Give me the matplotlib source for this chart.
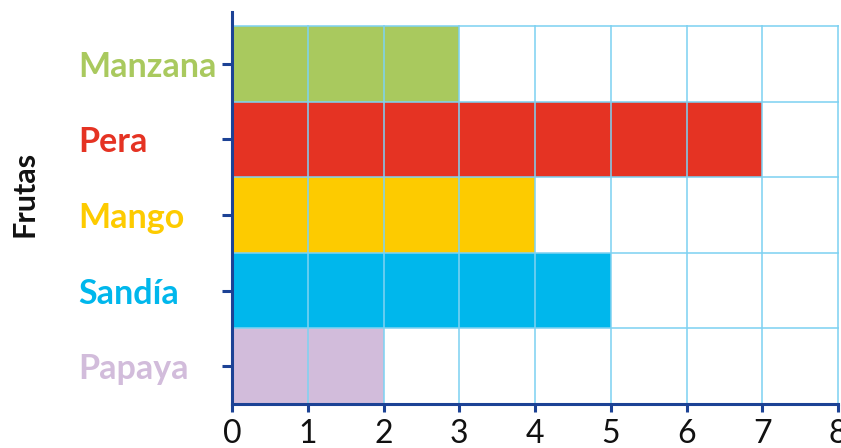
import matplotlib
matplotlib.use("Agg")
import matplotlib.pyplot as plt

frutas = ["Manzana", "Pera", "Mango", "Sandía", "Papaya"]
cantidades = [3, 7, 4, 5, 2]
colores = ["#A9C95E", "#E53323", "#FDCB00", "#00B7EC", "#D2BCDB"]
x_ticks = [0, 1, 2, 3, 4, 5, 6, 7, 8]

navy = "#1C4295"
grid_color = "#7ED2F2"

plt.rcParams["font.family"] = ["Lato", "DejaVu Sans"]

fig = plt.figure(figsize=(8.41, 4.48), dpi=100)
ax = fig.add_axes([232 / 841, 1 - 404 / 448, 606 / 841, 392 / 448])

n = len(frutas)
ypos = [n - 1 - i + 0.5 for i in range(n)]
ax.barh(ypos, cantidades, height=1.0, color=colores, zorder=1, linewidth=0)

# grid drawn over the bars
for xv in x_ticks[1:]:
    ax.plot([xv, xv], [0, n], color=grid_color, lw=1.4, alpha=0.8, zorder=2,
            clip_on=False)
for yv in range(1, n + 1):
    ax.plot([0, x_ticks[-1]], [yv, yv], color=grid_color, lw=1.4, alpha=0.8,
            zorder=2, clip_on=False)

ax.set_xlim(0, 8)
ax.set_ylim(0, n + 14 / 75.6)

for side in ("top", "right"):
    ax.spines[side].set_visible(False)
for side in ("left", "bottom"):
    ax.spines[side].set_color(navy)
    ax.spines[side].set_linewidth(2.2)
    ax.spines[side].set_zorder(3)

ax.set_xticks(x_ticks)
ax.set_xticklabels([str(v) for v in x_ticks], fontsize=23, color="#111111")
ax.tick_params(axis="x", length=6, width=2.2, color=navy, pad=5)

ax.set_yticks(ypos)
ax.set_yticklabels(frutas, fontsize=24.5, fontweight="bold")
ax.tick_params(axis="y", length=7, width=2.2, color=navy, pad=144 * 72 / 100)
for lbl, c in zip(ax.get_yticklabels(), colores):
    lbl.set_color(c)
    lbl.set_horizontalalignment("left")

fig.text(24 / 841, 1 - 194 / 448, "Frutas", rotation=90, fontsize=22,
         fontweight="bold", color="#111111", ha="center", va="center")

fig.savefig("out.png", dpi=100)
